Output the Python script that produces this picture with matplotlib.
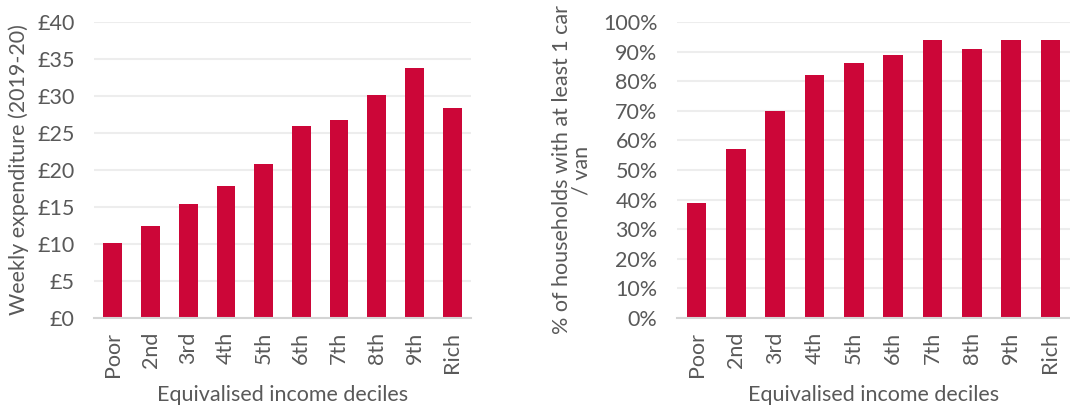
import matplotlib
matplotlib.use("Agg")
import matplotlib.pyplot as plt
from matplotlib.ticker import FuncFormatter

deciles = ["Poor", "2nd", "3rd", "4th", "5th", "6th", "7th", "8th", "9th", "Rich"]
weekly_spend = [10.1, 12.4, 15.4, 17.8, 20.8, 25.9, 26.7, 30.2, 33.8, 28.4]
car_share = [39, 57, 70, 82, 86, 89, 94, 91, 94, 94]

BAR = "#CC0638"
TXT = "#595959"
GRID = "#EDEDED"
BASE = "#D4D4D4"

plt.rcParams["font.family"] = ["Lato", "DejaVu Sans"]


def style_axes(ax):
    for side in ["top", "right", "left"]:
        ax.spines[side].set_visible(False)
    ax.spines["bottom"].set_color(BASE)
    ax.spines["bottom"].set_linewidth(1.5)
    ax.yaxis.grid(True, color=GRID, linewidth=1.5)
    ax.set_axisbelow(True)
    ax.tick_params(axis="both", length=0, colors=TXT, labelsize=15.5)
    ax.tick_params(axis="x", rotation=90, pad=10)
    ax.tick_params(axis="y", pad=14)
    ax.set_xlim(-0.5, len(deciles) - 0.5)
    ax.set_xlabel("Equivalised income deciles", color=TXT, fontsize=15.5, labelpad=6)


fig = plt.figure(figsize=(10.7, 4.09), dpi=100)

ax1 = fig.add_axes([94 / 1070, 1 - 318 / 409, 377 / 1070, 296 / 409])
ax1.bar(deciles, weekly_spend, width=0.5, color=BAR)
ax1.set_ylim(0, 40)
ax1.set_yticks(range(0, 41, 5))
ax1.yaxis.set_major_formatter(FuncFormatter(lambda v, p: f"£{v:.0f}"))
ax1.set_ylabel("Weekly expenditure (2019-20)", color=TXT, fontsize=15.5, labelpad=6)
style_axes(ax1)

ax2 = fig.add_axes([677 / 1070, 1 - 318 / 409, 393 / 1070, 296 / 409])
ax2.bar(deciles, car_share, width=0.5, color=BAR)
ax2.set_ylim(0, 100)
ax2.set_yticks(range(0, 101, 10))
ax2.yaxis.set_major_formatter(FuncFormatter(lambda v, p: f"{v:.0f}%"))
ax2.set_ylabel("% of households with at least 1 car\n/ van", color=TXT, fontsize=15.5,
               labelpad=8, linespacing=1.0)
style_axes(ax2)

fig.savefig("out.png", dpi=100)
